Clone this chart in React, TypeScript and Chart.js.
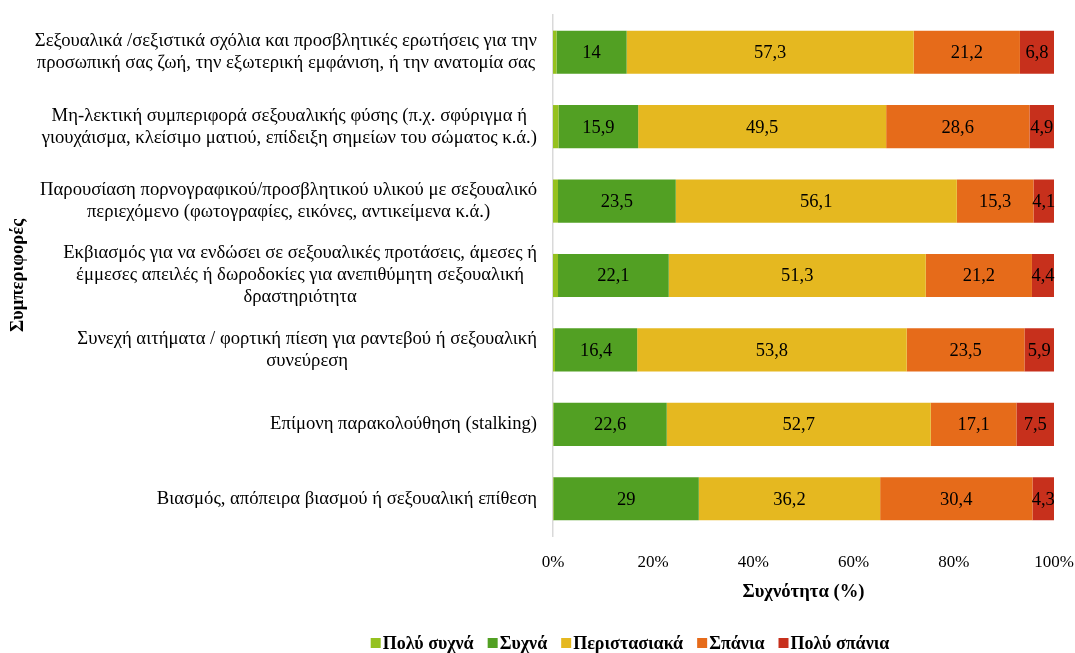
import React, { useEffect, useRef } from "react";
import { Chart, registerables } from "chart.js";

Chart.register(...registerables);

const categories: string[][] = [
  ["Σεξουαλικά /σεξιστικά σχόλια και προσβλητικές ερωτήσεις για την", "προσωπική σας ζωή, την εξωτερική εμφάνιση, ή την ανατομία σας"],
  ["Μη-λεκτική συμπεριφορά σεξουαλικής φύσης (π.χ. σφύριγμα ή", "γιουχάισμα, κλείσιμο ματιού, επίδειξη σημείων του σώματος κ.ά.)"],
  ["Παρουσίαση πορνογραφικού/προσβλητικού υλικού με σεξουαλικό", "περιεχόμενο (φωτογραφίες, εικόνες, αντικείμενα κ.ά.)"],
  ["Εκβιασμός για να ενδώσει σε σεξουαλικές προτάσεις, άμεσες ή", "έμμεσες απειλές ή δωροδοκίες για ανεπιθύμητη σεξουαλική", "δραστηριότητα"],
  ["Συνεχή αιτήματα / φορτική πίεση για ραντεβού ή σεξουαλική", "συνεύρεση"],
  ["Επίμονη παρακολούθηση (stalking)"],
  ["Βιασμός, απόπειρα βιασμού ή σεξουαλική επίθεση"],
];

const seriesNames = ["Πολύ συχνά", "Συχνά", "Περιστασιακά", "Σπάνια", "Πολύ σπάνια"];
const veryOften = [0.7, 1.1, 1.0, 1.0, 0.4, 0.1, 0.1];
const often = [14, 15.9, 23.5, 22.1, 16.4, 22.6, 29];
const occasionally = [57.3, 49.5, 56.1, 51.3, 53.8, 52.7, 36.2];
const rarely = [21.2, 28.6, 15.3, 21.2, 23.5, 17.1, 30.4];
const veryRarely = [6.8, 4.9, 4.1, 4.4, 5.9, 7.5, 4.3];
const seriesColors = ["#95c11f", "#52a023", "#e5b820", "#e66b1a", "#c7301c"];
const labeledSeries = [false, true, true, true, true];

const xTickValues = [0, 20, 40, 60, 80, 100];
const xTitle = "Συχνότητα (%)";
const yTitle = "Συμπεριφορές";

const FONT = '"Liberation Serif", "Times New Roman", serif';

const yLabelPlugin = {
  id: "yLabels",
  afterDraw(chart: any) {
    const ctx = chart.ctx;
    const yScale = chart.scales.y;
    const labels = chart.data.labels as string[][];
    const right = yScale.right - 16;
    const lh = 22;
    ctx.save();
    ctx.font = `18.67px ${FONT}`;
    ctx.fillStyle = "#000";
    ctx.textAlign = "center";
    ctx.textBaseline = "middle";
    labels.forEach((lines, i) => {
      const y = yScale.getPixelForTick(i);
      const w = Math.max(...lines.map((l) => ctx.measureText(l).width));
      const cx = right - w / 2;
      const y0 = y - ((lines.length - 1) * lh) / 2;
      lines.forEach((l, j) => ctx.fillText(l, cx, y0 + j * lh));
    });
    ctx.restore();
  },
};

const valueLabelPlugin = {
  id: "valueLabels",
  afterDatasetsDraw(chart: any) {
    const ctx = chart.ctx;
    ctx.save();
    ctx.font = `18.5px ${FONT}`;
    ctx.fillStyle = "#000";
    ctx.textAlign = "center";
    ctx.textBaseline = "middle";
    chart.data.datasets.forEach((ds: any, di: number) => {
      if (!labeledSeries[di]) return;
      const meta = chart.getDatasetMeta(di);
      meta.data.forEach((el: any, i: number) => {
        const v = ds.data[i];
        const text = String(v).replace(".", ",");
        ctx.fillText(text, (el.x + el.base) / 2, el.y + 1);
      });
    });
    ctx.restore();
  },
};

const legendPlugin = {
  id: "customLegend",
  afterDraw(chart: any) {
    const ctx = chart.ctx;
    const centerX = 630;
    const y = 643;
    const box = 10;
    const gap = 2;
    const spacing = 14;
    ctx.save();
    ctx.font = `bold 18px ${FONT}`;
    ctx.textBaseline = "middle";
    ctx.textAlign = "left";
    const widths = seriesNames.map((n) => box + gap + ctx.measureText(n).width);
    const total = widths.reduce((a, b) => a + b, 0) + spacing * (seriesNames.length - 1);
    let x = centerX - total / 2;
    seriesNames.forEach((n, i) => {
      ctx.fillStyle = seriesColors[i];
      ctx.fillRect(x, y - box / 2, box, box);
      ctx.fillStyle = "#000";
      ctx.fillText(n, x + box + gap, y + 1);
      x += widths[i] + spacing;
    });
    ctx.restore();
  },
};

export default function App() {
  const ref = useRef<HTMLCanvasElement | null>(null);

  useEffect(() => {
    if (!ref.current) return;
    const series = [veryOften, often, occasionally, rarely, veryRarely];
    const chart = new Chart(ref.current, {
      type: "bar",
      data: {
        labels: categories,
        datasets: series.map((d, i) => ({
          label: seriesNames[i],
          data: d,
          backgroundColor: seriesColors[i],
          borderWidth: 0,
          barPercentage: 0.58,
          categoryPercentage: 1,
        })),
      },
      options: {
        indexAxis: "y",
        responsive: false,
        animation: false,
        devicePixelRatio: 1,
        layout: { padding: { top: 15, right: 21, bottom: 47, left: 0 } },
        plugins: {
          legend: { display: false },
          tooltip: { enabled: false },
        },
        scales: {
          x: {
            stacked: true,
            min: 0,
            max: 100,
            afterBuildTicks(scale: any) {
              scale.ticks = xTickValues.map((v) => ({ value: v }));
            },
            afterFit(scale: any) {
              scale.height = 70;
            },
            grid: { display: false, drawTicks: true, tickLength: 16 },
            border: { display: false },
            ticks: {
              padding: 0,
              color: "#000",
              font: { family: FONT, size: 17 },
              callback: (v: any) => `${v}%`,
            },
            title: {
              display: true,
              text: xTitle,
              color: "#000",
              font: { family: FONT, size: 18.67, weight: "bold" },
              padding: { top: 4, bottom: 3 },
            },
          },
          y: {
            stacked: true,
            afterFit(scale: any) {
              scale.width = 553;
            },
            grid: { display: false, drawTicks: false },
            border: { display: true, color: "#d9d9d9", width: 1.5 },
            ticks: { display: false },
            title: {
              display: true,
              text: yTitle,
              color: "#000",
              font: { family: FONT, size: 18.67, weight: "bold" },
              padding: { top: 7, bottom: 4 },
            },
          },
        },
      } as any,
      plugins: [yLabelPlugin, valueLabelPlugin, legendPlugin],
    });
    return () => chart.destroy();
  }, []);

  return (
    <div style={{ position: "fixed", left: 0, top: 0, width: 1075, height: 653, background: "#fff" }}>
      <canvas ref={ref} width={1075} height={653} />
    </div>
  );
}
